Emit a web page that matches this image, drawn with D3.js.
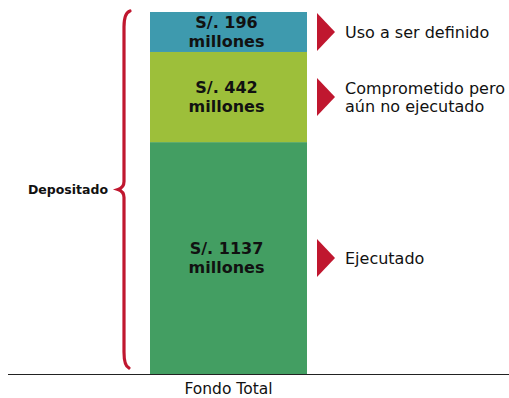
<!DOCTYPE html>
<html>
<head>
<meta charset="utf-8">
<script src="https://cdn.jsdelivr.net/npm/d3@7"></script>
<style>
  html, body { margin: 0; padding: 0; background: #fff; }
  svg { display: block; font-family: "DejaVu Sans", Verdana, sans-serif; }
</style>
</head>
<body>
<svg id="chart" width="509" height="398"></svg>
<script>
// Fund breakdown, stacked from the bottom (millones de soles)
const category = "Fondo Total";
const segments = ["Ejecutado", "Comprometido pero aún no ejecutado", "Uso a ser definido"];
const values = [1137, 442, 196];
const valueLabels = ["S/. 1137", "S/. 442", "S/. 196"];
const sideLabels = [["Ejecutado"], ["Comprometido pero", "aún no ejecutado"], ["Uso a ser definido"]];
const colors = ["#439E62", "#9DBF3A", "#3E9AAE"];
const braceLabel = "Depositado";

const W = 509, H = 398;
const svg = d3.select("#chart");

const baseY = 374, topY = 12;
const total = d3.sum(values);

const x = d3.scaleBand().domain([category]).range([8, 448]);
const y = d3.scaleLinear().domain([0, total]).range([baseY, topY]);

// bar geometry
const barX = 150, barW = 157;

// stack
let acc = 0;
const stack = values.map((v, i) => {
  const d = { i, v, y0: acc, y1: acc + v };
  acc += v;
  return d;
});

svg.selectAll("rect.seg").data(stack).join("rect")
  .attr("class", "seg")
  .attr("x", barX)
  .attr("width", barW)
  .attr("y", d => y(d.y1))
  .attr("height", d => y(d.y0) - y(d.y1))
  .attr("fill", d => colors[d.i]);

// value labels inside the bar
const inner = svg.selectAll("g.val").data(stack).join("g")
  .attr("class", "val")
  .attr("transform", d => `translate(${barX + barW / 2 - 2},${(y(d.y0) + y(d.y1)) / 2})`);
inner.append("text")
  .attr("text-anchor", "middle").attr("y", -4)
  .attr("font-size", 16).attr("font-weight", "bold").attr("fill", "#111")
  .text(d => valueLabels[d.i]);
inner.append("text")
  .attr("text-anchor", "middle").attr("y", 15)
  .attr("font-size", 16).attr("font-weight", "bold").attr("fill", "#111")
  .text("millones");

// side markers and labels
const red = "#C0172F";
const side = svg.selectAll("g.side").data(stack).join("g")
  .attr("class", "side")
  .attr("transform", d => `translate(317,${(y(d.y0) + y(d.y1)) / 2})`);
side.append("path")
  .attr("d", "M0,-19 L18,0 L0,19 Z")
  .attr("fill", red);
side.each(function (d) {
  const lines = sideLabels[d.i];
  const g = d3.select(this);
  const lh = 18.5;
  const first = 6 - (lines.length - 1) * lh / 2;
  lines.forEach((t, k) => {
    g.append("text")
      .attr("x", 28).attr("y", first + k * lh)
      .attr("font-size", 16).attr("fill", "#111")
      .text(t);
  });
});

// baseline axis
const axis = d3.axisBottom(x).tickSize(0).tickPadding(8);
const axG = svg.append("g").attr("transform", `translate(0,${baseY + 0.5})`).call(axis);
axG.select(".domain").attr("d", `M8,0H${W}`).attr("stroke", "#222").attr("stroke-width", 1.2);
axG.selectAll(".tick").attr("transform", `translate(${barX + barW / 2},0)`);
axG.selectAll(".tick text")
  .attr("font-family", "DejaVu Sans, Verdana, sans-serif")
  .attr("font-size", 15.5).attr("fill", "#111").attr("dy", "0.71em");

// curly brace spanning the deposited total
const bx = 124, tip = 118, bTop = y(total) - 1, bBot = baseY - 6;
const mid = (bTop + bBot) / 2;
const bracePath = [
  `M${bx + 6},${bTop}`,
  `Q${bx},${bTop + 2} ${bx},${bTop + 16}`,
  `L${bx},${mid - 8}`,
  `Q${bx},${mid - 2} ${tip},${mid}`,
  `Q${bx},${mid + 2} ${bx},${mid + 8}`,
  `L${bx},${bBot - 16}`,
  `Q${bx},${bBot - 2} ${bx + 5},${bBot}`
].join(" ");
svg.append("path")
  .attr("d", bracePath)
  .attr("fill", "none")
  .attr("stroke", red)
  .attr("stroke-width", 3.2)
  .attr("stroke-linecap", "round");

svg.append("text")
  .attr("x", 68).attr("y", mid + 4)
  .attr("text-anchor", "middle")
  .attr("font-size", 12.5).attr("font-weight", "bold").attr("fill", "#111")
  .text(braceLabel);
</script>
</body>
</html>
